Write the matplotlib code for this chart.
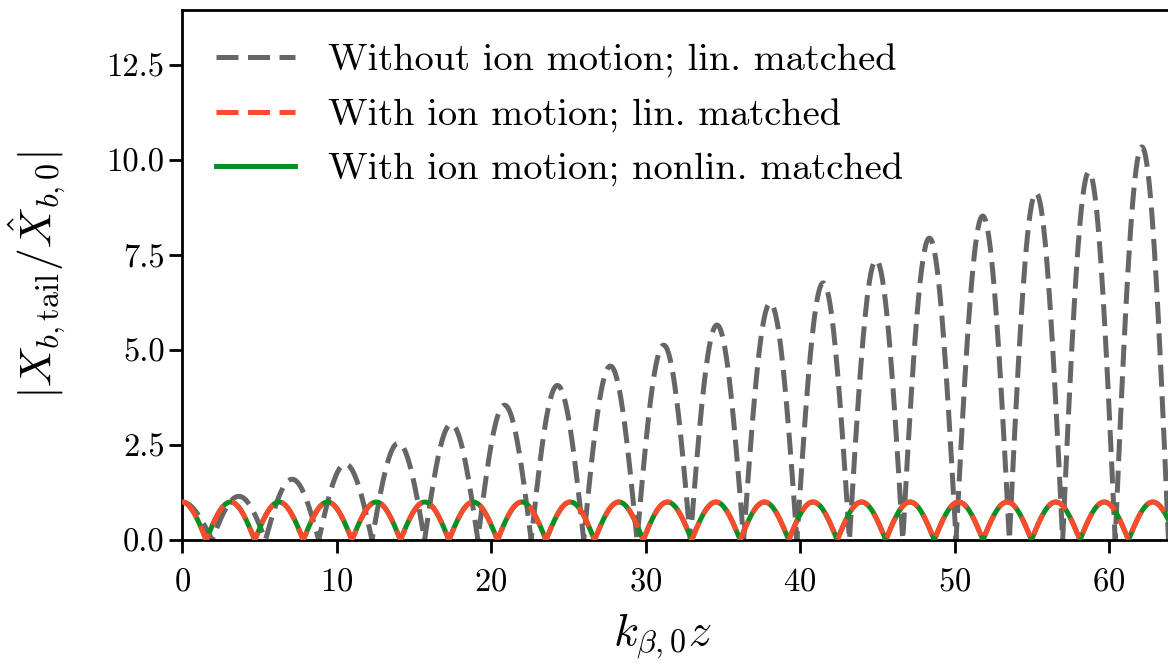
import numpy as np
import matplotlib
matplotlib.use("Agg")
import matplotlib.pyplot as plt

# ------------------------------------------------------------
# data
# ------------------------------------------------------------

# gray curve (without ion motion): value at z=0, zero positions, lobe peak heights
GRAY_START = 1.0
GRAY_ZEROS = [1.95, 5.40, 8.85, 12.30, 15.70, 19.15, 22.60, 26.00, 29.45, 32.90,
              36.35, 39.80, 43.20, 46.65, 50.10, 53.55, 57.00, 60.40, 63.85]
GRAY_PEAKS = [1.15, 1.60, 2.00, 2.55, 3.05, 3.55, 4.07, 4.58, 5.13, 5.66,
              6.24, 6.77, 7.37, 7.95, 8.53, 9.14, 9.69, 10.35]

# red / green curves (with ion motion): zero positions, peak heights
ION_START = 1.0
ION_ZEROS = [1.57, 4.71, 7.85, 11.00, 14.14, 17.28, 20.42, 23.56, 26.70, 29.85,
             32.99, 36.13, 39.27, 42.41, 45.55, 48.69, 51.84, 54.98, 58.12, 61.26, 64.40]
ION_PEAKS = [1.0] * (len(ION_ZEROS) - 1)

LABELS = ["Without ion motion; lin. matched",
          "With ion motion; lin. matched",
          "With ion motion; nonlin. matched"]

Y_TICKS = [0.0, 2.5, 5.0, 7.5, 10.0, 12.5]
X_TICKS = [0, 10, 20, 30, 40, 50, 60]


def lobe_curve(start_val, zeros, peaks, n=80):
    """|oscillation| drawn lobe by lobe between the read zero crossings."""
    xs = [np.linspace(0, zeros[0], n)]
    ys = [start_val * np.cos(0.5 * np.pi * xs[0] / zeros[0])]
    for a, b, h in zip(zeros[:-1], zeros[1:], peaks):
        t = np.linspace(a, b, n)
        xs.append(t)
        ys.append(h * np.sin(np.pi * (t - a) / (b - a)))
    return np.concatenate(xs), np.abs(np.concatenate(ys))


x_gray, y_gray = lobe_curve(GRAY_START, GRAY_ZEROS, GRAY_PEAKS)
x_ion, y_ion = lobe_curve(ION_START, ION_ZEROS, ION_PEAKS)

# ------------------------------------------------------------
# plot
# ------------------------------------------------------------
plt.rcParams["font.family"] = ["cmr10", "DejaVu Serif"]
plt.rcParams["mathtext.fontset"] = "cm"
plt.rcParams["axes.formatter.use_mathtext"] = True
plt.rcParams["axes.unicode_minus"] = False

fig = plt.figure(figsize=(11.68, 6.68), dpi=100)
W, H = 1168, 668
left, right, top, bottom = 182, 1180, 10, 540
aw, ah = right - left, bottom - top
ax = fig.add_axes([left / W, 1 - bottom / H, aw / W, ah / H])

ax.set_xlim(0, aw / 15.45)
ax.set_ylim(0, ah / 37.98)

lw = 3.6
dash = (0, (4.4, 1.9))
ax.plot(x_gray, y_gray, color="#666666", lw=lw, ls=dash, label=LABELS[0])
ax.plot(x_ion, y_ion, color="#ff4a2e", lw=lw, ls=dash, label=LABELS[1], zorder=4)
ax.plot(x_ion, y_ion, color="#0a8f24", lw=lw, label=LABELS[2], zorder=3)

ax.set_xticks(X_TICKS)
ax.set_yticks(Y_TICKS)
ax.set_yticklabels([f"{v:.1f}" for v in Y_TICKS])
ax.tick_params(labelsize=23.5, width=2, length=9.5)
ax.tick_params(axis="x", pad=10)
ax.tick_params(axis="y", pad=3)
for s in ax.spines.values():
    s.set_linewidth(2)

ax.set_xlabel(r"$k_{\beta,0}z$", fontsize=33)
ax.set_ylabel(r"$|X_{b,\mathrm{tail}}/\hat{X}_{b,0}|$", fontsize=33)
ax.xaxis.set_label_coords((662 - left) / aw, -(612 - bottom) / ah)
ax.yaxis.set_label_coords(-(182 - 68) / aw, 0.5)

handles, labels = ax.get_legend_handles_labels()
leg = ax.legend(handles, labels, loc="upper left", frameon=False, fontsize=27.7,
                handlelength=2.05, handletextpad=0.85, labelspacing=0.52,
                borderaxespad=0, borderpad=0,
                bbox_to_anchor=((216 - left) / aw, 1 - (44 - top) / ah))

fig.savefig("out.png", dpi=100)
